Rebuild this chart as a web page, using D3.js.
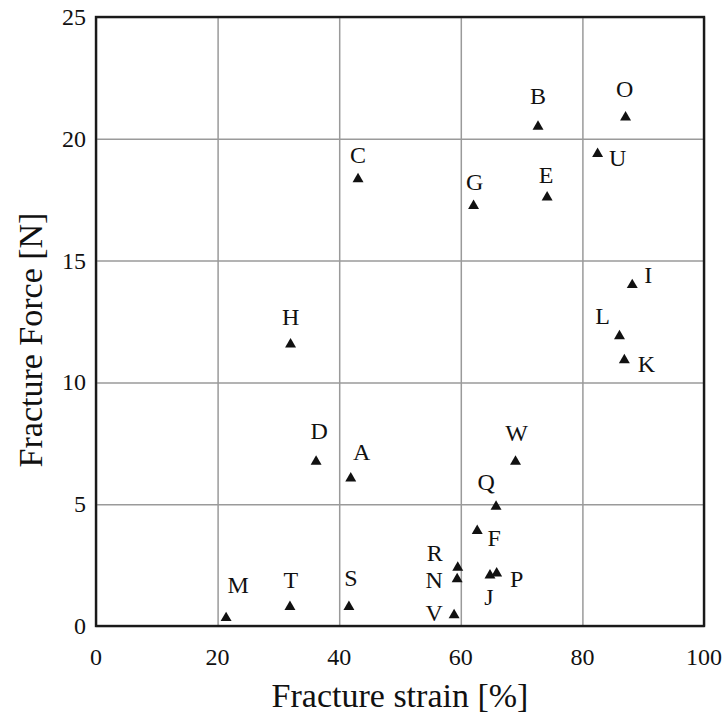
<!DOCTYPE html>
<html>
<head>
<meta charset="utf-8">
<script src="https://cdn.jsdelivr.net/npm/d3@7"></script>
<style>
    body { margin: 0; background: #fff; }
    svg text { font-family: "Liberation Serif", "Times New Roman", serif; fill: #111; }
</style>
</head>
<body>
<svg id="chart" width="725" height="715"></svg>
<script>
// sample names and measured values
const names  = ['A', 'B', 'C', 'D', 'E', 'F', 'G', 'H', 'I', 'J', 'K', 'L',
                'M', 'N', 'O', 'P', 'Q', 'R', 'S', 'T', 'U', 'V', 'W'];
const strain = [41.9, 72.7, 43.1, 36.2, 74.2, 62.7, 62.1, 32.0, 88.2, 64.8, 86.9, 86.1,
                21.4, 59.4, 87.1, 65.9, 65.8, 59.5, 41.6, 31.9, 82.5, 58.9, 69.0];
const force  = [6.06, 20.5, 18.35, 6.75, 17.6, 3.91, 17.25, 11.56, 14.0, 2.08, 10.92, 11.9,
                0.33, 1.93, 20.88, 2.16, 4.9, 2.4, 0.79, 0.79, 19.38, 0.45, 6.75];

const xTicks = [0, 20, 40, 60, 80, 100];
const yTicks = [0, 5, 10, 15, 20, 25];

// where each letter sits relative to its marker (px)
const labelOffsets = {
    A: [11, -26], B: [0, -31], C: [0, -24], D: [3, -31], E: [-1, -22], F: [17, 7],
    G: [1, -24], H: [0, -27], I: [16, -10], J: [-1, 22], K: [22, 4], L: [-17, -20],
    M: [12, -33], N: [-23, 1], O: [-1, -28], P: [20, 6], Q: [-10, -25], R: [-23, -15],
    S: [2, -29], T: [1, -27], U: [20, 4], V: [-20, -2], W: [1, -29]
};

const svg = d3.select('#chart');
const plotLeft = 96, plotRight = 704, plotTop = 17, plotBottom = 626;

const x = d3.scaleLinear().domain([0, 100]).range([plotLeft, plotRight]);
const y = d3.scaleLinear().domain([0, 25]).range([plotBottom, plotTop]);

// grid
svg.append('g')
    .attr('transform', `translate(0,${plotBottom})`)
    .call(d3.axisBottom(x).tickValues(xTicks).tickSize(-(plotBottom - plotTop)).tickFormat(''))
    .call(g => g.select('.domain').remove())
    .selectAll('line').attr('stroke', '#9a9a9a').attr('stroke-width', 1.5);

svg.append('g')
    .attr('transform', `translate(${plotLeft},0)`)
    .call(d3.axisLeft(y).tickValues(yTicks).tickSize(-(plotRight - plotLeft)).tickFormat(''))
    .call(g => g.select('.domain').remove())
    .selectAll('line').attr('stroke', '#9a9a9a').attr('stroke-width', 1.5);

// frame
svg.append('rect')
    .attr('x', plotLeft).attr('y', plotTop)
    .attr('width', plotRight - plotLeft).attr('height', plotBottom - plotTop)
    .attr('fill', 'none').attr('stroke', '#1a1a1a').attr('stroke-width', 2.4);

// tick labels
svg.append('g').selectAll('text')
    .data(xTicks).enter().append('text')
    .attr('x', d => x(d)).attr('y', 665)
    .attr('text-anchor', 'middle')
    .style('font-size', '24px')
    .text(d => d);

svg.append('g').selectAll('text')
    .data(yTicks).enter().append('text')
    .attr('x', 86).attr('y', d => y(d) + 8)
    .attr('text-anchor', 'end')
    .style('font-size', '24px')
    .text(d => d);

// axis titles
svg.append('text')
    .attr('x', (plotLeft + plotRight) / 2).attr('y', 707)
    .attr('text-anchor', 'middle')
    .style('font-size', '34px')
    .text('Fracture strain [%]');

svg.append('text')
    .attr('transform', 'translate(42,340) rotate(-90)')
    .attr('text-anchor', 'middle')
    .style('font-size', '34px')
    .text('Fracture Force [N]');

// points
const points = names.map((n, i) => ({ name: n, sx: strain[i], fy: force[i] }));

svg.append('g').selectAll('path')
    .data(points).enter().append('path')
    .attr('d', d3.symbol().type(d3.symbolTriangle).size(52))
    .attr('transform', d => `translate(${x(d.sx)},${y(d.fy)})`)
    .attr('fill', '#111');

svg.append('g').selectAll('text')
    .data(points).enter().append('text')
    .attr('x', d => x(d.sx) + labelOffsets[d.name][0])
    .attr('y', d => y(d.fy) + labelOffsets[d.name][1] + 8)
    .attr('text-anchor', 'middle')
    .style('font-size', '24px')
    .text(d => d.name);
</script>
</body>
</html>
